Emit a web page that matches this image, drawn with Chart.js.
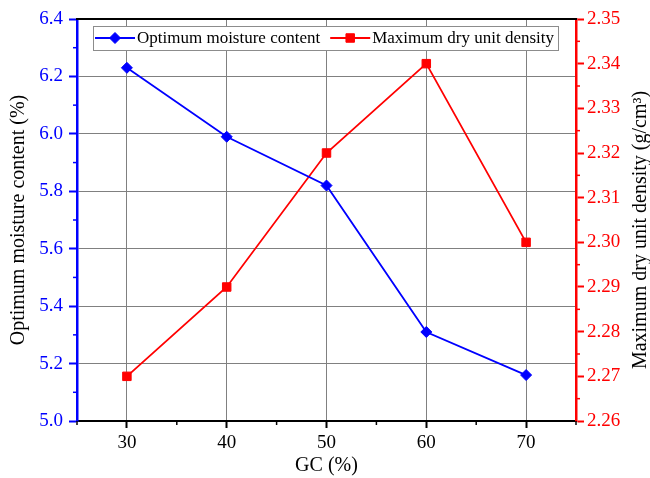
<!DOCTYPE html>
<html><head><meta charset="utf-8">
<script src="https://cdn.jsdelivr.net/npm/chart.js@4/dist/chart.umd.min.js"></script>
<style>html,body{margin:0;padding:0;background:#fff}#wrap{width:650px;height:478px}</style>
</head><body><div id="wrap"><canvas id="c" width="650" height="478"></canvas></div>
<script>
const gcValues = [30, 40, 50, 60, 70];
const moisture = [6.23, 5.99, 5.82, 5.31, 5.16];
const density = [2.27, 2.29, 2.32, 2.34, 2.30];
const xTicks = [30, 40, 50, 60, 70];
const leftTicks = [5.0, 5.2, 5.4, 5.6, 5.8, 6.0, 6.2, 6.4];
const rightTicks = [2.26, 2.27, 2.28, 2.29, 2.30, 2.31, 2.32, 2.33, 2.34, 2.35];
const xMinor = [25, 35, 45, 55, 65, 75];
const leftMinor = [5.1, 5.3, 5.5, 5.7, 5.9, 6.1, 6.3];
const rightMinor = [2.265, 2.275, 2.285, 2.295, 2.305, 2.315, 2.325, 2.335, 2.345];
const seriesNames = ['Optimum moisture content', 'Maximum dry unit density'];

const FONT = "'Liberation Serif', 'Times New Roman', serif";
const BLUE = '#0000ff', RED = '#ff0000', GRID = '#808080';

function edgeGrid(min, max) {
  return ctx => (ctx.tick && (Math.abs(ctx.tick.value - min) < 1e-9 || Math.abs(ctx.tick.value - max) < 1e-9)) ? 'rgba(0,0,0,0)' : GRID;
}

function marker(ctx, style, x, y, r, color) {
  ctx.save();
  ctx.fillStyle = color; ctx.strokeStyle = color; ctx.lineWidth = 1;
  ctx.beginPath();
  if (style === 'rectRot') {
    ctx.moveTo(x, y - r); ctx.lineTo(x + r, y); ctx.lineTo(x, y + r); ctx.lineTo(x - r, y); ctx.closePath();
  } else {
    const s = r * Math.SQRT1_2;
    ctx.rect(x - s, y - s, 2 * s, 2 * s);
  }
  ctx.fill(); ctx.stroke();
  ctx.restore();
}

const decor = {
  id: 'decor',
  afterDraw(chart) {
    const ctx = chart.ctx;
    const {left, right, top, bottom} = chart.chartArea;
    const sx = chart.scales.x, sy = chart.scales.y, sy1 = chart.scales.y1;
    ctx.save();
    // top frame line
    ctx.strokeStyle = '#000'; ctx.lineWidth = 2;
    ctx.beginPath(); ctx.moveTo(left - 1, top); ctx.lineTo(right + 1, top); ctx.stroke();
    // minor ticks
    ctx.lineWidth = 1.5;
    ctx.strokeStyle = '#000';
    xMinor.forEach(v => { const p = sx.getPixelForValue(v); ctx.beginPath(); ctx.moveTo(p, bottom); ctx.lineTo(p, bottom + 4); ctx.stroke(); });
    ctx.strokeStyle = BLUE;
    leftMinor.forEach(v => { const p = sy.getPixelForValue(v); ctx.beginPath(); ctx.moveTo(left, p); ctx.lineTo(left - 4, p); ctx.stroke(); });
    ctx.strokeStyle = RED;
    rightMinor.forEach(v => { const p = sy1.getPixelForValue(v); ctx.beginPath(); ctx.moveTo(right, p); ctx.lineTo(right + 4, p); ctx.stroke(); });
    // right axis title (reads bottom to top)
    ctx.fillStyle = '#000';
    ctx.font = '20px ' + FONT;
    ctx.textAlign = 'center'; ctx.textBaseline = 'middle';
    ctx.translate(641, (top + bottom) / 2 + 10);
    ctx.rotate(-Math.PI / 2);
    ctx.fillText('Maximum dry unit density (g/cm\u00B3)', 0, 0);
    ctx.restore();

    // legend
    ctx.save();
    ctx.font = '17px ' + FONT;
    const bx = left + 16, by = top + 7, bh = 24;
    const ds = chart.data.datasets;
    let widths = ds.map(d => ctx.measureText(d.label).width);
    let total = 2;
    widths.forEach(w => total += 42 + w + 10);
    const bw = total - 10 + 4;
    ctx.fillStyle = '#fff';
    ctx.fillRect(bx, by, bw, bh);
    ctx.strokeStyle = '#8c8c8c'; ctx.lineWidth = 1;
    ctx.strokeRect(bx + 0.5, by + 0.5, bw, bh);
    let x = bx + 2;
    const cy = by + bh / 2;
    ds.forEach((d, i) => {
      ctx.strokeStyle = d.borderColor; ctx.lineWidth = 2;
      ctx.beginPath(); ctx.moveTo(x, cy); ctx.lineTo(x + 40, cy); ctx.stroke();
      marker(ctx, d.pointStyle, x + 20, cy, d.pointRadius, d.backgroundColor);
      ctx.fillStyle = '#000'; ctx.textAlign = 'left'; ctx.textBaseline = 'middle';
      ctx.fillText(d.label, x + 42, cy + 1);
      x += 42 + widths[i] + 10;
    });
    ctx.restore();
  }
};

new Chart(document.getElementById('c'), {
  type: 'line',
  data: {
    datasets: [
      {
        label: seriesNames[0],
        data: gcValues.map((g, i) => ({x: g, y: moisture[i]})),
        yAxisID: 'y',
        borderColor: BLUE, backgroundColor: BLUE,
        borderWidth: 1.8, pointStyle: 'rectRot', pointRadius: 5.5, pointBorderWidth: 1,
        tension: 0
      },
      {
        label: seriesNames[1],
        data: gcValues.map((g, i) => ({x: g, y: density[i]})),
        yAxisID: 'y1',
        borderColor: RED, backgroundColor: RED,
        borderWidth: 1.8, pointStyle: 'rect', pointRadius: 6, pointBorderWidth: 1,
        tension: 0
      }
    ]
  },
  options: {
    responsive: false,
    animation: false,
    devicePixelRatio: 1,
    layout: {padding: {top: 19, left: 0, right: 0, bottom: 0}},
    plugins: {legend: {display: false}, tooltip: {enabled: false}},
    scales: {
      x: {
        type: 'linear', min: 25, max: 75,
        afterBuildTicks: s => { s.ticks = xTicks.map(v => ({value: v})); },
        afterFit: s => { s.height = 57; },
        grid: {color: edgeGrid(25, 75), lineWidth: 1, tickLength: 7, tickColor: '#000', tickWidth: 2},
        border: {color: '#000', width: 2},
        ticks: {color: '#000', font: {family: FONT, size: 19}, padding: 4, maxRotation: 0},
        title: {display: true, text: 'GC (%)', color: '#000', font: {family: FONT, size: 20}, padding: {top: 0, bottom: 0}}
      },
      y: {
        type: 'linear', position: 'left', min: 5.0, max: 6.4,
        afterBuildTicks: s => { s.ticks = leftTicks.map(v => ({value: v})); },
        afterFit: s => { s.width = 77; },
        grid: {color: edgeGrid(5.0, 6.4), lineWidth: 1, tickLength: 8, tickColor: BLUE, tickWidth: 2},
        border: {color: BLUE, width: 2.5},
        ticks: {color: BLUE, font: {family: FONT, size: 19}, padding: 6, callback: v => Number(v).toFixed(1)},
        title: {display: true, text: 'Optimum moisture content (%)', color: '#000', font: {family: FONT, size: 20}, padding: {top: 7, bottom: 0}}
      },
      y1: {
        type: 'linear', position: 'right', min: 2.26, max: 2.35,
        afterBuildTicks: s => { s.ticks = rightTicks.map(v => ({value: v})); },
        afterFit: s => { s.width = 74; },
        grid: {drawOnChartArea: false, tickLength: 8, tickColor: RED, tickWidth: 2},
        border: {color: RED, width: 2.5},
        ticks: {color: RED, font: {family: FONT, size: 19}, padding: 3, callback: v => Number(v).toFixed(2)}
      }
    }
  },
  plugins: [decor]
});
</script>
</body></html>
